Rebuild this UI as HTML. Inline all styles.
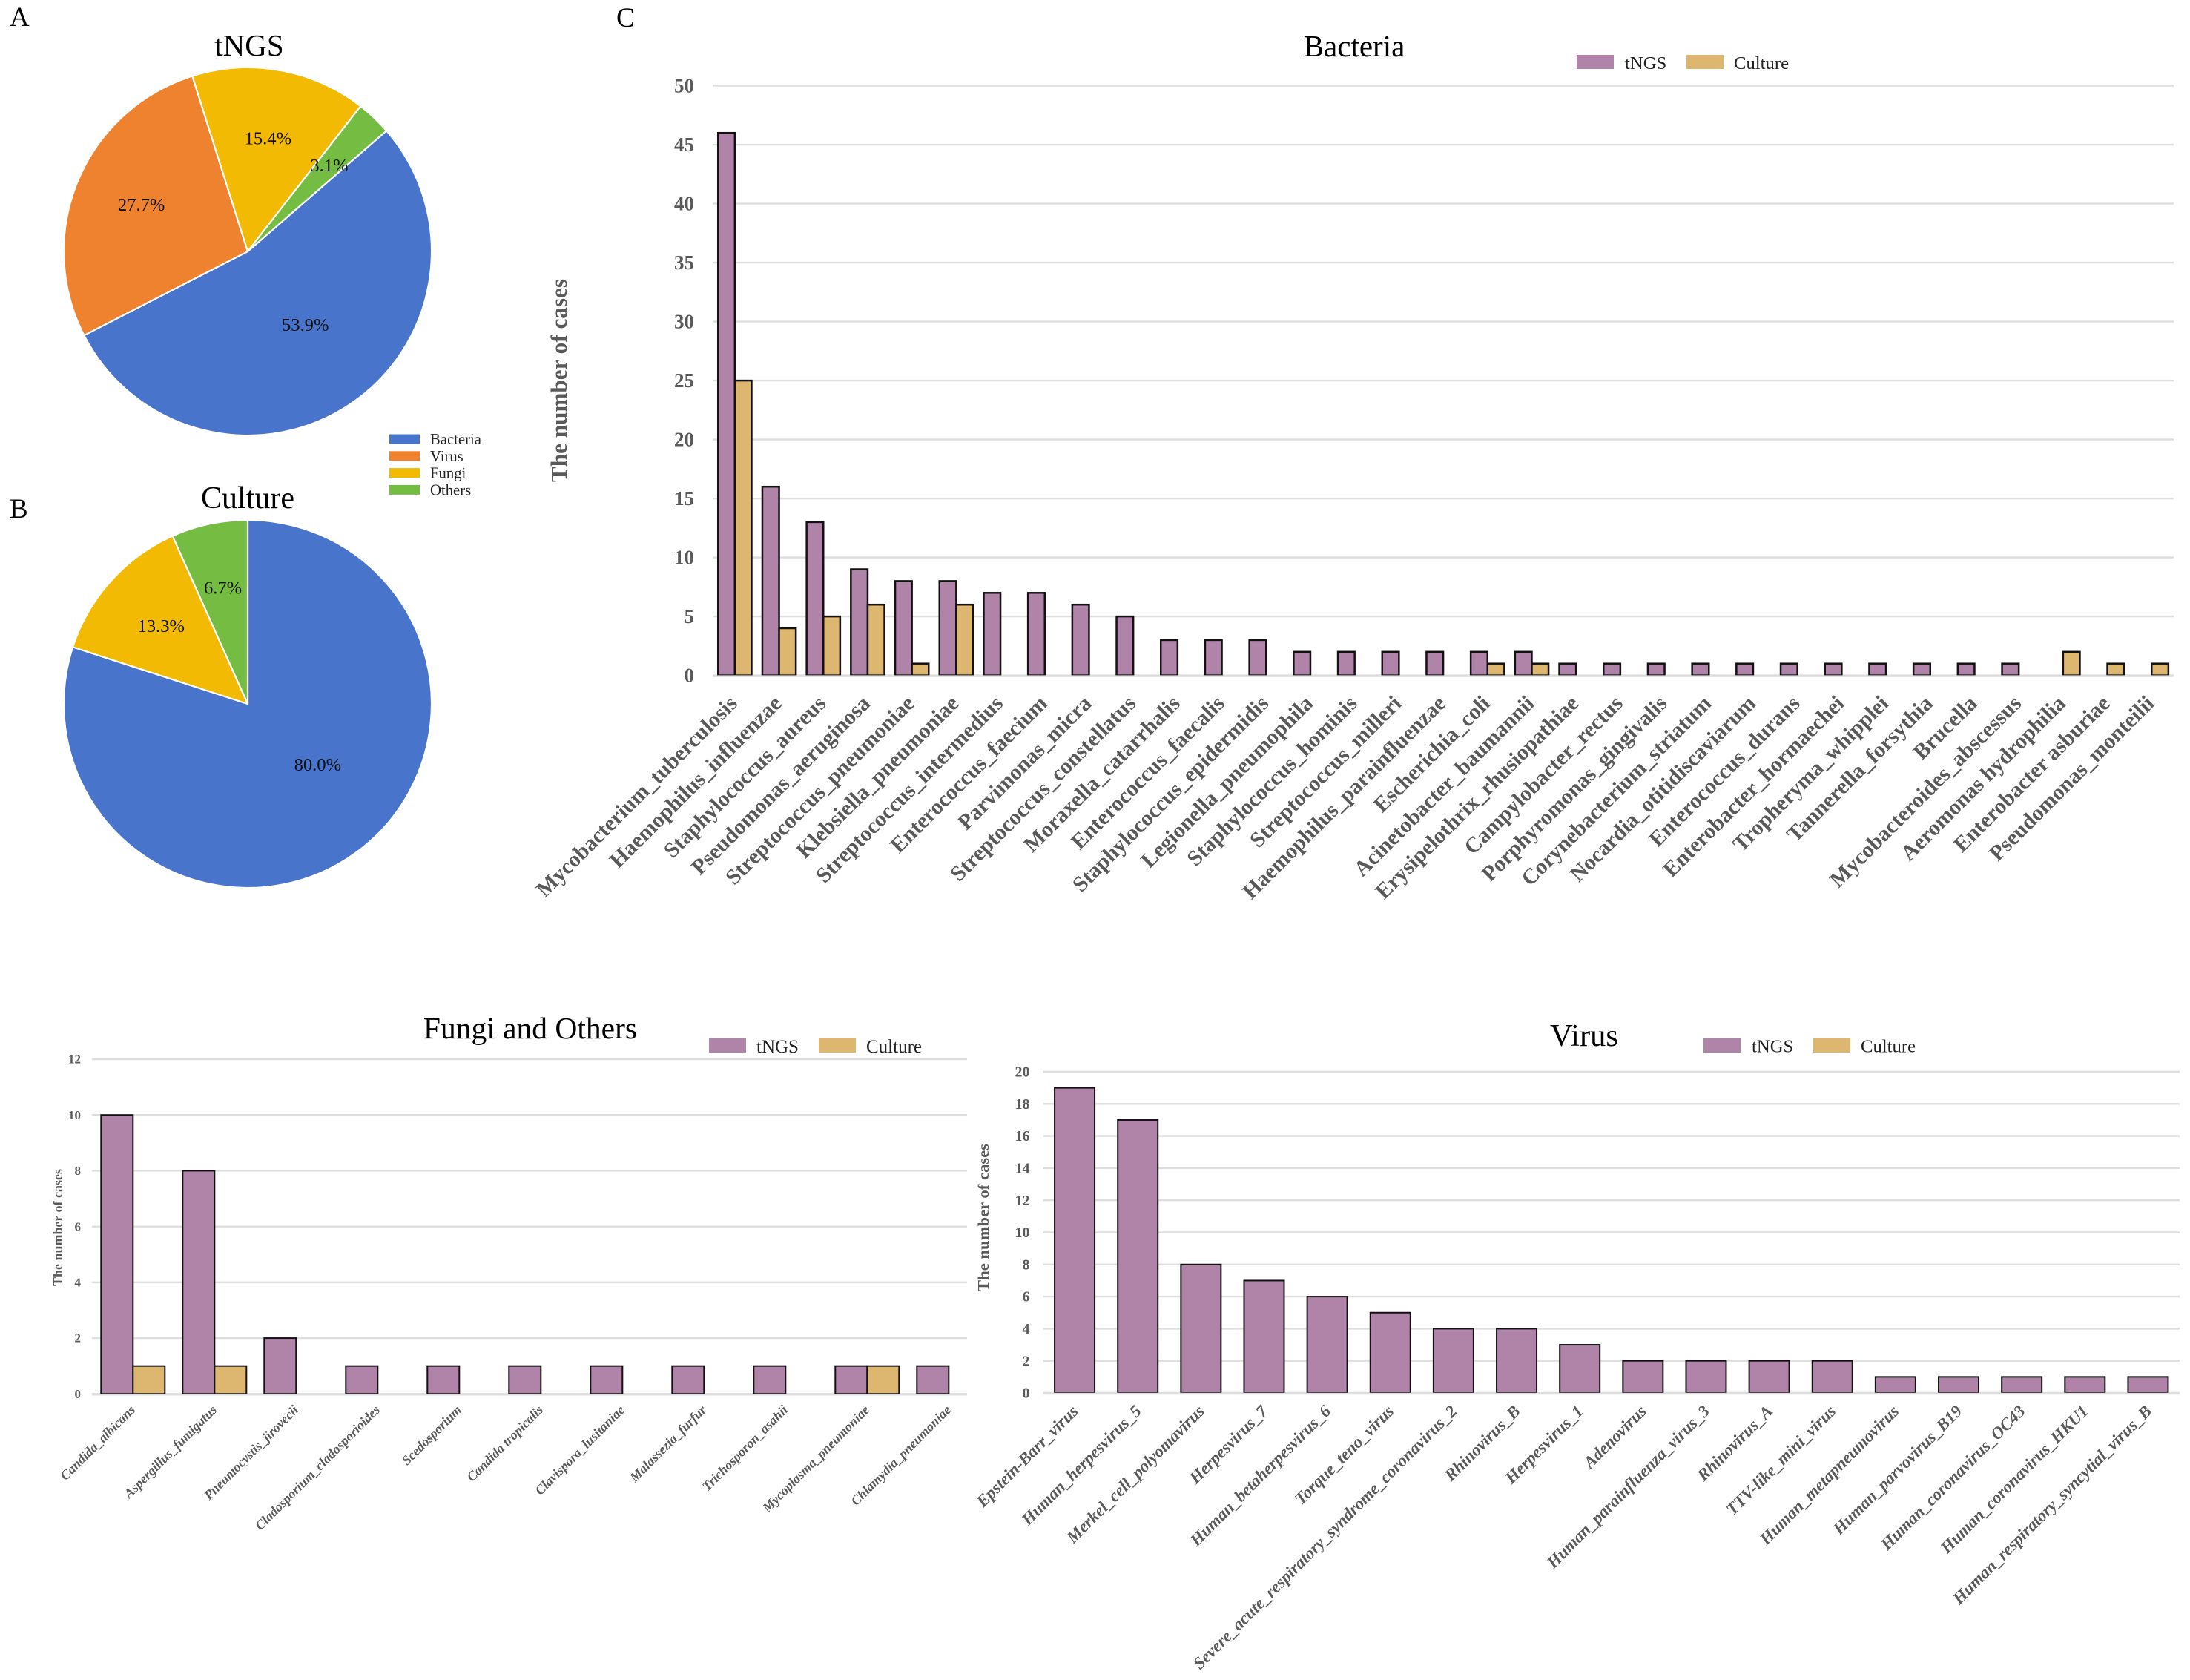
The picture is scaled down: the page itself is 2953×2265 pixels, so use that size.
<!DOCTYPE html>
<html lang="en">
<head>
<meta charset="utf-8">
<title>tNGS versus culture pathogen detection</title>
<style>
  html, body { margin: 0; padding: 0; background: #ffffff; }
  svg { display: block; font-family: "Liberation Serif", "Noto Serif CJK SC", serif; }
</style>
</head>
<body>
<svg id="figure" xmlns="http://www.w3.org/2000/svg" width="2953" height="2265" viewBox="0 0 2953 2265">
  <rect x="0" y="0" width="2953" height="2265" fill="#ffffff"/>
  <text x="13" y="35" font-size="37">A</text>
  <text x="13" y="698" font-size="37">B</text>
  <text x="831" y="36" font-size="37">C</text>
  <text x="336" y="75" font-size="41" text-anchor="middle">tNGS</text>
  <text x="334" y="685" font-size="42" text-anchor="middle">Culture</text>
  <text x="1826" y="76" font-size="41" text-anchor="middle">Bacteria</text>
  <text x="715" y="1400" font-size="41.5" text-anchor="middle">Fungi and Others</text>
  <text x="2136" y="1410" font-size="42.5" text-anchor="middle">Virus</text>
</svg>
<script>
const pieCategories = ['Bacteria', 'Virus', 'Fungi', 'Others'];
const tngsPiePercents = [53.9, 27.7, 15.4, 3.1];
const culturePiePercents = [80.0, 0, 13.3, 6.7];

const seriesNames = ['tNGS', 'Culture'];

const bacteriaCategories = ['Mycobacterium_tuberculosis', 'Haemophilus_influenzae', 'Staphylococcus_aureus', 'Pseudomonas_aeruginosa', 'Streptococcus_pneumoniae', 'Klebsiella_pneumoniae', 'Streptococcus_intermedius', 'Enterococcus_faecium', 'Parvimonas_micra', 'Streptococcus_constellatus', 'Moraxella_catarrhalis', 'Enterococcus_faecalis', 'Staphylococcus_epidermidis', 'Legionella_pneumophila', 'Staphylococcus_hominis', 'Streptococcus_milleri', 'Haemophilus_parainfluenzae', 'Escherichia_coli', 'Acinetobacter_baumannii', 'Erysipelothrix_rhusiopathiae', 'Campylobacter_rectus', 'Porphyromonas_gingivalis', 'Corynebacterium_striatum', 'Nocardia_otitidiscaviarum', 'Enterococcus_durans', 'Enterobacter_hormaechei', 'Tropheryma_whipplei', 'Tannerella_forsythia', 'Brucella', 'Mycobacteroides_abscessus', 'Aeromonas hydrophilia', 'Enterobacter asburiae', 'Pseudomonas_monteilii'];
const bacteriaTngs = [46, 16, 13, 9, 8, 8, 7, 7, 6, 5, 3, 3, 3, 2, 2, 2, 2, 2, 2, 1, 1, 1, 1, 1, 1, 1, 1, 1, 1, 1, 0, 0, 0];
const bacteriaCulture = [25, 4, 5, 6, 1, 6, 0, 0, 0, 0, 0, 0, 0, 0, 0, 0, 0, 1, 1, 0, 0, 0, 0, 0, 0, 0, 0, 0, 0, 0, 2, 1, 1];
const bacteriaTicks = [0, 5, 10, 15, 20, 25, 30, 35, 40, 45, 50];

const fungiCategories = ['Candida_albicans', 'Aspergillus_fumigatus', 'Pneumocystis_jirovecii', 'Cladosporium_cladosporioides', 'Scedosporium', 'Candida tropicalis', 'Clavispora_lusitaniae', 'Malassezia_furfur', 'Trichosporon_asahii', 'Mycoplasma_pneumoniae', 'Chlamydia_pneumoniae'];
const fungiTngs = [10, 8, 2, 1, 1, 1, 1, 1, 1, 1, 1];
const fungiCulture = [1, 1, 0, 0, 0, 0, 0, 0, 0, 1, 0];
const fungiTicks = [0, 2, 4, 6, 8, 10, 12];

const virusCategories = ['Epstein-Barr_virus', 'Human_herpesvirus_5', 'Merkel_cell_polyomavirus', 'Herpesvirus_7', 'Human_betaherpesvirus_6', 'Torque_teno_virus', 'Severe_acute_respiratory_syndrome_coronavirus_2', 'Rhinovirus_B', 'Herpesvirus_1', 'Adenovirus', 'Human_parainfluenza_virus_3', 'Rhinovirus_A', 'TTV-like_mini_virus', 'Human_metapneumovirus', 'Human_parvovirus_B19', 'Human_coronavirus_OC43', 'Human_coronavirus_HKU1', 'Human_respiratory_syncytial_virus_B'];
const virusTngs = [19, 17, 8, 7, 6, 5, 4, 4, 3, 2, 2, 2, 2, 1, 1, 1, 1, 1];
const virusTicks = [0, 2, 4, 6, 8, 10, 12, 14, 16, 18, 20];

const SVG_NS = 'http://www.w3.org/2000/svg';
const root = document.getElementById('figure');
const PIE_COLORS = ['#4874CB', '#EE822F', '#F2BA02', '#75BD42'];
const SERIES_COLORS = ['#AF84A8', '#DDB66F'];
const AXIS_TEXT = '#595959';

function slug(s) {
  return String(s).toLowerCase().replace(/[^a-z0-9]+/g, '-');
}

function el(tag, attrs, parent, text) {
  const node = document.createElementNS(SVG_NS, tag);
  for (const k in attrs) node.setAttribute(k, attrs[k]);
  if (text !== undefined) node.textContent = text;
  parent.appendChild(node);
  return node;
}

function drawPie(name, percents, cfg) {
  const g = el('g', {}, root);
  
  
  const total = percents.reduce((a, b) => a + b, 0);
  const point = (deg, r) => {
    const a = deg * Math.PI / 180;
    return [cfg.cx + r * Math.sin(a), cfg.cy - r * Math.cos(a)];
  };
  let angle = cfg.start;
  percents.forEach((value, i) => {
    if (value === 0) return;
    const sweep = value / total * 360;
    const [x0, y0] = point(angle, cfg.r);
    const [x1, y1] = point(angle + sweep, cfg.r);
    const large = sweep > 180 ? 1 : 0;
    const d = `M${cfg.cx} ${cfg.cy}L${x0} ${y0}A${cfg.r} ${cfg.r} 0 ${large} 1 ${x1} ${y1}Z`;
    const slice = el('path', { d: d, fill: PIE_COLORS[i], stroke: '#ffffff', 'stroke-width': 2.2, 'stroke-linejoin': 'round' }, g);
    
    
    angle += sweep;
  });
  angle = cfg.start;
  percents.forEach((value, i) => {
    if (value === 0) return;
    const sweep = value / total * 360;
    const [lx, ly] = point(angle + sweep / 2 + cfg.labelShift[i], cfg.labelRadius[i]);
    const label = el('text', { x: lx, y: ly + 8, 'font-size': 24.6, 'text-anchor': 'middle', fill: '#111111' }, g, value.toFixed(1) + '%');
    
    
    angle += sweep;
  });
}

function drawPieLegend(cfg) {
  const g = el('g', {}, root);
  
  
  pieCategories.forEach((cat, i) => {
    const y = cfg.y + cfg.step * i;
    const swatch = el('rect', { x: cfg.x, y: y - 6.5, width: 41, height: 13, fill: PIE_COLORS[i] }, g);
    
    
    const label = el('text', { x: cfg.x + 55, y: y + 7, 'font-size': 20.7, fill: '#222222' }, g, cat);
    
    
  });
}

function drawBarChart(name, categories, seriesList, ticks, cfg) {
  const g = el('g', {}, root);
  
  
  const maxTick = Math.max(...ticks);
  const yScale = v => cfg.y0 - v * (cfg.y0 - cfg.yTop) / maxTick;
  const xCenter = i => cfg.xStart + cfg.step * (i + 0.5);

  ticks.forEach(t => {
    const y = yScale(t);
    const line = el('line', { x1: cfg.gridLeft, x2: cfg.gridRight, y1: y, y2: y, stroke: '#DEDEDE', 'stroke-width': cfg.gridWidth }, g);
    
    
    const label = el('text', { x: cfg.tickX, y: y + cfg.tickSize * 0.33, 'font-size': cfg.tickSize, 'font-weight': 'bold', 'text-anchor': 'end', fill: AXIS_TEXT }, g, t);
    
    
  });

  const n = seriesList.length;
  seriesList.forEach((values, s) => {
    values.forEach((v, i) => {
      if (v === 0) return;
      const left = xCenter(i) - n * cfg.barWidth / 2 + s * cfg.barWidth;
      const top = yScale(v);
      const bar = el('rect', { x: left, y: top, width: cfg.barWidth, height: cfg.y0 - top, fill: SERIES_COLORS[s], stroke: '#141014', 'stroke-width': cfg.barStroke }, g);
      
      
    });
  });

  const base = el('line', { x1: cfg.gridLeft, x2: cfg.gridRight, y1: cfg.y0 + 1, y2: cfg.y0 + 1, stroke: '#DEDEDE', 'stroke-width': cfg.gridWidth }, g);
  
  

  categories.forEach((cat, i) => {
    const ax = xCenter(i) + cfg.labelDx;
    const label = el('text', { x: ax, y: cfg.labelY, transform: `rotate(-45 ${ax} ${cfg.labelY})`, 'font-size': cfg.labelSize, 'font-weight': 'bold', 'font-style': cfg.labelStyle, 'text-anchor': 'end', fill: AXIS_TEXT }, g, cat);
    
    
  });

  const ty = (cfg.titleTop + cfg.titleBottom) / 2;
  const yTitle = el('text', { x: cfg.titleX, y: ty, transform: `rotate(-90 ${cfg.titleX} ${ty})`, 'font-size': cfg.titleSize, 'font-weight': 'bold', 'text-anchor': 'middle', fill: AXIS_TEXT, textLength: cfg.titleBottom - cfg.titleTop, lengthAdjust: 'spacingAndGlyphs' }, g, 'The number of cases');
  
  

  seriesNames.forEach((sn, s) => {
    const item = cfg.legend[s];
    const swatch = el('rect', { x: item.swatchX, y: cfg.legend.y, width: cfg.legend.w, height: cfg.legend.h, fill: SERIES_COLORS[s] }, g);
    
    
    const text = el('text', { x: item.textX, y: cfg.legend.baseline, 'font-size': cfg.legend.size, fill: '#222222' }, g, sn);
    
    
  });
}

drawPie('tngs', tngsPiePercents, { cx: 334, cy: 339, r: 248, start: 49, labelRadius: [126, 156.5, 155, 160], labelShift: [-4, 1, 0, 0] });
drawPie('culture', culturePiePercents, { cx: 334, cy: 949, r: 248, start: 0, labelRadius: [125, 158, 157, 160], labelShift: [-13, 0, 0, 0] });
drawPieLegend({ x: 525, y: 592, step: 22.8 });

drawBarChart('bacteria', bacteriaCategories, [bacteriaTngs, bacteriaCulture], bacteriaTicks, {
  y0: 910.6, yTop: 115.6, xStart: 961, step: 59.7, gridLeft: 961, gridRight: 2931, gridWidth: 2.4,
  barWidth: 22.6, barStroke: 2.5, tickX: 936, tickSize: 27,
  labelDx: 5, labelY: 950, labelSize: 29.7, labelStyle: 'normal',
  titleX: 764, titleTop: 376, titleBottom: 650, titleSize: 31,
  legend: { y: 74, w: 50, h: 19, baseline: 93, size: 24.7, 0: { swatchX: 2126, textX: 2191 }, 1: { swatchX: 2274, textX: 2338 } }
});

drawBarChart('fungi', fungiCategories, [fungiTngs, fungiCulture], fungiTicks, {
  y0: 1879.3, yTop: 1428, xStart: 124.3, step: 110, gridLeft: 124, gridRight: 1304, gridWidth: 2.4,
  barWidth: 43, barStroke: 2, tickX: 109, tickSize: 17,
  labelDx: 4, labelY: 1902, labelSize: 18, labelStyle: 'italic',
  titleX: 84, titleTop: 1576, titleBottom: 1734, titleSize: 18,
  legend: { y: 1400, w: 50, h: 19, baseline: 1419, size: 25, 0: { swatchX: 956, textX: 1020 }, 1: { swatchX: 1104, textX: 1168 } }
});

drawBarChart('virus', virusCategories, [virusTngs], virusTicks, {
  y0: 1878, yTop: 1445, xStart: 1406.5, step: 85.14, gridLeft: 1406.5, gridRight: 2939, gridWidth: 2.4,
  barWidth: 54, barStroke: 2, tickX: 1388.5, tickSize: 20,
  labelDx: 6, labelY: 1904, labelSize: 23, labelStyle: 'italic',
  titleX: 1333, titleTop: 1542, titleBottom: 1741, titleSize: 21,
  legend: { y: 1400, w: 50, h: 19, baseline: 1418.5, size: 24.7, 0: { swatchX: 2297, textX: 2362 }, 1: { swatchX: 2445, textX: 2509 } }
});
</script>
</body>
</html>
